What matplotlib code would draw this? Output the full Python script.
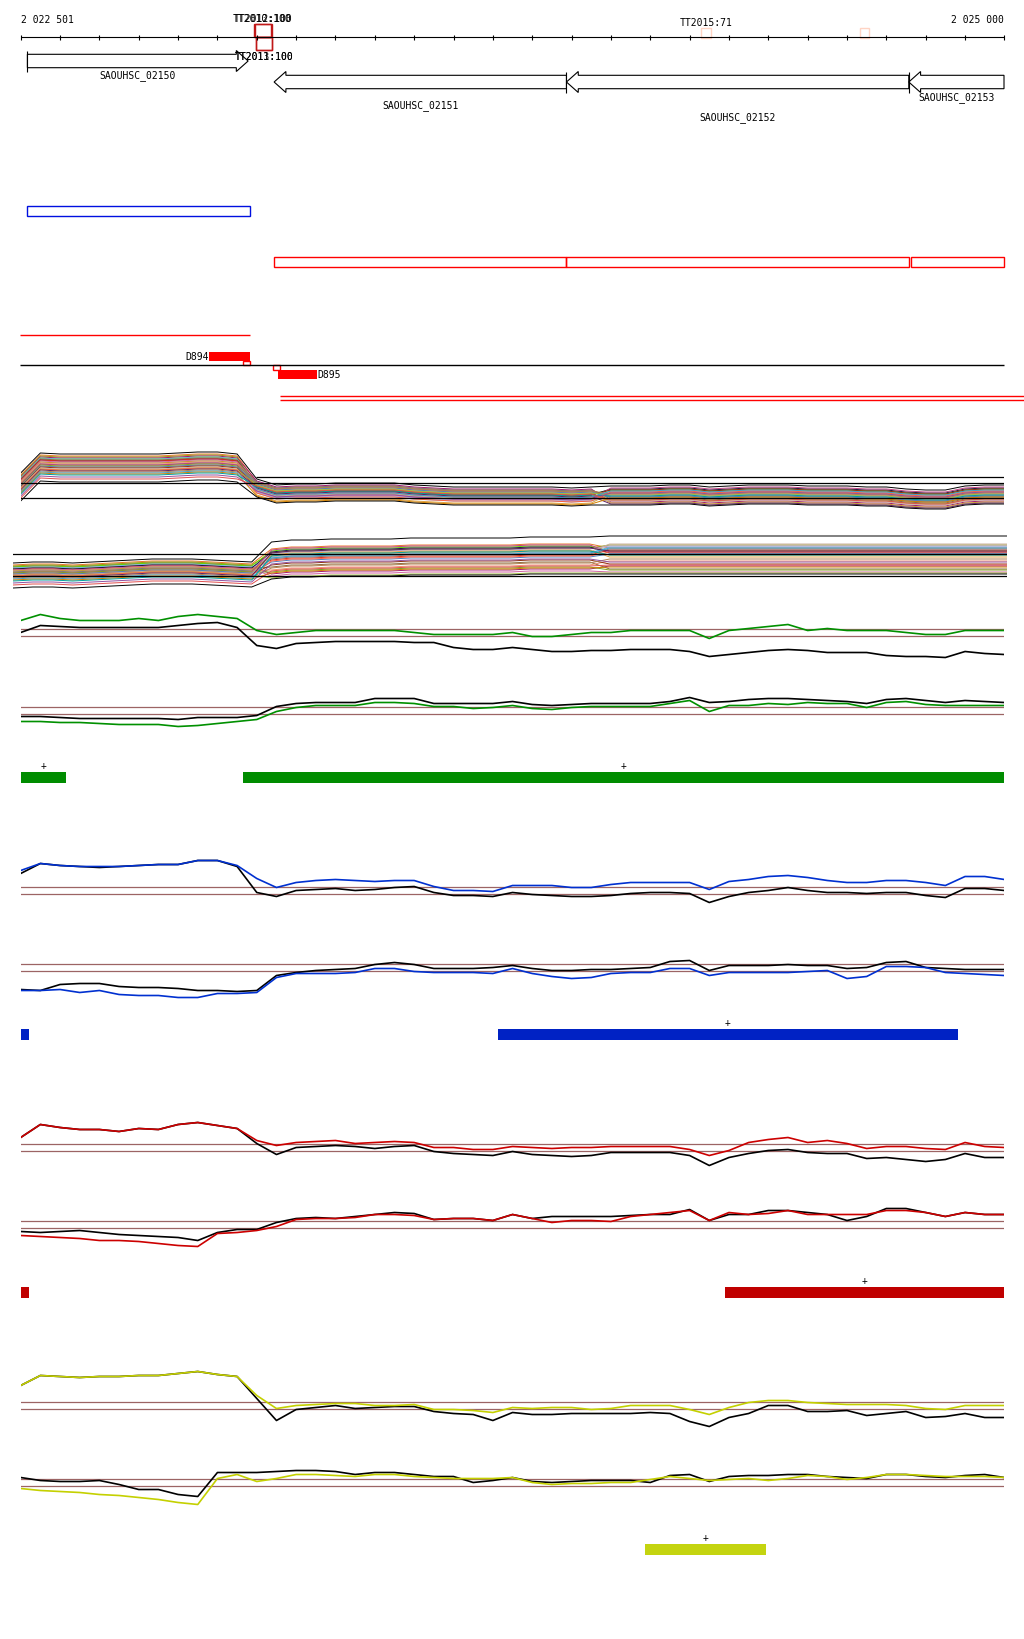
# Third party modules #
import matplotlib
matplotlib.use('Agg')
from matplotlib import pyplot
from matplotlib.patches import Rectangle, Polygon

# Constants #
W, H = 1024, 1640
view_start, view_end = 2022501, 2025000
px_start, px_end = 20.7, 1004.0
font = dict(family='DejaVu Sans Mono', fontsize=7, color='black')
brown = '#9c6464'

################################################################################
# Probe grid (one value every 50 bp) #
probe_pos = list(range(2022501, 2025002, 50))

# Ruler markers #
marker_names = ['TT2010:100', 'TT2012:100', 'TT2011:100', 'TT2013:100', 'TT2015:71', '']
marker_start = [2023094, 2023096, 2023099, 2023099, 2024230, 2024634]
marker_end   = [2023137, 2023140, 2023140, 2023140, 2024256, 2024657]
marker_side  = ['up', 'up', 'down', 'down', 'up', 'up']
marker_score = [100, 100, 100, 100, 71, 0]

# Genes #
gene_names   = ['SAOUHSC_02150', 'SAOUHSC_02151', 'SAOUHSC_02152', 'SAOUHSC_02153']
gene_starts  = [2022518, 2023145, 2023888, 2024758]
gene_ends    = [2023079, 2023888, 2024758, 2025000]
gene_strands = ['+', '-', '-', '-']
gene_label_rows = [76, 106, 117.5, 97.5]

# Transcription units #
blue_units = [(2022518, 2023083)]
red_units  = [(2023145, 2023888), (2023888, 2024758), (2024764, 2025000)]

# Deletions #
del_names  = ['D894', 'D895']
del_starts = [2022980, 2023155]
del_ends   = [2023083, 2023255]

# Segment bars per condition #
green_bars  = [(2022501, 2022616), (2023066, 2025000)]
blue_bars   = [(2022501, 2022522), (2023714, 2024883)]
red_bars    = [(2022501, 2022522), (2024291, 2025000)]
yellow_bars = [(2024088, 2024396)]

# All-sample tracks: base profile + per sample level (left / middle / right) #
t1_base = [-0.1, 1.9, 1.8, 1.8, 1.8, 1.8, 1.8, 1.8, 1.9, 2.0, 2.0, 1.8,
           -0.4, -1.0, -0.9, -0.9, -0.8, -0.8, -0.8, -0.8, -1.0, -1.1, -1.2, -1.2, -1.2,
           -1.2, -1.2, -1.2, -1.3, -1.2, -1.2, -1.2, -1.2, -1.1, -1.1, -1.3, -1.2, -1.1,
           -1.1, -1.1, -1.2, -1.2, -1.2, -1.3, -1.3, -1.5, -1.6, -1.6, -1.2, -1.1, -1.1]
t1_left_off  = [1.1, 0.9, 0.8, 0.7, 0.6, 0.6, 0.5, 0.4, 0.4, 0.3, 0.2, 0.2, 0.1, 0.0, 0.0,
                -0.1, -0.2, -0.2, -0.3, -0.4, -0.5, -0.5, -0.6, -0.7, -0.8, -0.9, -1.0, -1.2, -1.4, -1.7]
t1_mid_off   = [0.8, 0.5, -0.3, 0.6, 0.1, -0.6, 0.4, 0.0, -0.2, 0.3, -0.5, 0.2, -0.1, 0.5, -0.4,
                0.1, -0.8, 0.3, 0.0, -0.3, 0.2, -0.6, -0.1, 0.4, -0.2, -0.9, 0.0, -0.4, 0.1, -1.0]
t1_right_off = [0.9, -0.2, 0.4, -0.7, 0.5, 0.0, -0.4, 0.6, 0.2, -0.1, 0.3, -0.8, 0.1, -0.3, 0.7,
                -0.5, 0.2, -0.2, 0.5, -0.6, 0.0, 0.3, -0.9, 0.1, 0.4, -0.3, -0.1, 0.2, -0.5, -1.0]
t1_refs = [0.0, -1.5]

t2_base = [-1.7, -1.6, -1.6, -1.7, -1.6, -1.5, -1.4, -1.3, -1.3, -1.3, -1.4, -1.5, -1.6,
           -0.8, -0.6, -0.6, -0.5, -0.5, -0.5, -0.5, -0.4, -0.4, -0.4, -0.4, -0.4, -0.4,
           -0.3, -0.3, -0.3, -0.3, -0.3, -0.3, -0.3, -0.3, -0.3, -0.3, -0.3, -0.3, -0.3,
           -0.3, -0.3, -0.3, -0.3, -0.3, -0.3, -0.3, -0.3, -0.3, -0.3, -0.3, -0.3]
t2_left_off  = [0.8, 0.6, 0.5, 0.4, 0.4, 0.3, 0.2, 0.2, 0.1, 0.1, 0.0, 0.0, -0.1, -0.1, -0.2,
                -0.2, -0.3, -0.3, -0.4, -0.4, -0.5, -0.5, -0.6, -0.7, -0.8, -0.9, -1.0, -1.2, -1.4, -1.7]
t2_mid_off   = [2.0, 1.3, 0.9, -1.2, 1.1, 0.4, -0.5, 1.0, 0.2, -1.4, 0.8, 0.6, -0.8, 0.3, 1.2,
                -1.0, 0.7, 0.0, -0.3, 0.5, -1.6, 0.1, 0.9, -0.6, 0.4, -1.1, 0.6, -0.2, -0.9, -1.7]
t2_right_off = [2.1, 0.9, 1.2, -0.9, 0.6, 1.0, -1.2, 0.4, 0.7, -1.5, 1.1, 0.2, -0.4, 0.8, 0.5,
                -1.3, 0.0, 0.3, -0.7, 1.3, -1.6, 0.5, 0.6, -0.2, 0.9, -1.0, 0.2, -0.5, -0.8, -1.7]
t2_refs = [0.0, -2.2]

sample_colors = ['black', '#e8742a', '#9a9a10', '#a01870', '#66dd00', '#6fb0e0', '#8a6a3a',
                 '#1a1a40', '#e03020', '#d060a0', '#b0a0d0', '#c89a30', '#f09070', '#7a7a7a',
                 '#c04080', '#80a020', '#e0a040', '#5080c0', '#903010', '#c8b0a0', '#a0c040',
                 '#ff6040', '#602060', '#b08050', '#40a0d0', '#d08000', '#00a0a0', '#9050a0',
                 '#e05050', 'black']

# Condition profiles (log ratio) #
green_top_green = [1.2, 1.8, 1.4, 1.2, 1.2, 1.2, 1.4, 1.2, 1.6, 1.8, 1.6, 1.4, 0.2, -0.2, 0.0, 0.2, 0.2,
                   0.2, 0.2, 0.2, 0.0, -0.2, -0.2, -0.2, -0.2, 0.0, -0.4, -0.4, -0.2, 0.0, 0.0, 0.2,
                   0.2, 0.2, 0.2, -0.6, 0.2, 0.4, 0.6, 0.8, 0.2, 0.4, 0.2, 0.2, 0.2, 0.0, -0.2, -0.2,
                   0.2, 0.2, 0.2]
green_top_black = [0.0, 0.7, 0.6, 0.5, 0.5, 0.5, 0.5, 0.5, 0.7, 0.9, 1.0, 0.5, -1.3, -1.6, -1.1, -1.0,
                   -0.9, -0.9, -0.9, -0.9, -1.0, -1.0, -1.5, -1.7, -1.7, -1.5, -1.7, -1.9, -1.9, -1.8,
                   -1.8, -1.7, -1.7, -1.7, -1.9, -2.4, -2.2, -2.0, -1.8, -1.7, -1.8, -2.0, -2.0, -2.0,
                   -2.3, -2.4, -2.4, -2.5, -1.9, -2.1, -2.2]
green_bot_green = [-1.1, -1.1, -1.2, -1.2, -1.3, -1.4, -1.4, -1.4, -1.6, -1.5, -1.3, -1.1, -0.9, -0.1,
                   0.3, 0.5, 0.5, 0.5, 0.8, 0.8, 0.7, 0.4, 0.4, 0.2, 0.3, 0.5, 0.2, 0.1, 0.3, 0.4, 0.4,
                   0.4, 0.4, 0.7, 1.0, -0.1, 0.5, 0.5, 0.7, 0.6, 0.8, 0.7, 0.7, 0.3, 0.8, 0.9, 0.6,
                   0.5, 0.5, 0.5, 0.5]
green_bot_black = [-0.6, -0.6, -0.7, -0.8, -0.8, -0.8, -0.8, -0.8, -0.9, -0.7, -0.7, -0.7, -0.5, 0.4,
                   0.7, 0.8, 0.8, 0.8, 1.2, 1.2, 1.2, 0.7, 0.7, 0.7, 0.7, 0.9, 0.6, 0.5, 0.6, 0.7, 0.7,
                   0.7, 0.7, 0.9, 1.3, 0.8, 0.9, 1.1, 1.2, 1.2, 1.1, 1.0, 0.9, 0.7, 1.1, 1.2, 1.0, 0.8,
                   1.0, 0.9, 0.8]
blue_top_blue = [2.0, 2.7, 2.5, 2.4, 2.4, 2.4, 2.5, 2.6, 2.6, 3.0, 3.0, 2.5, 1.2, 0.3, 0.8, 1.0, 1.1,
                 1.0, 0.9, 1.0, 1.0, 0.4, 0.0, 0.0, -0.1, 0.5, 0.5, 0.5, 0.3, 0.3, 0.6, 0.8, 0.8, 0.8,
                 0.8, 0.1, 0.9, 1.1, 1.4, 1.5, 1.3, 1.0, 0.8, 0.8, 1.0, 1.0, 0.8, 0.5, 1.4, 1.4, 1.1]
blue_top_black = [1.7, 2.7, 2.5, 2.4, 2.3, 2.4, 2.5, 2.6, 2.6, 3.0, 3.0, 2.4, -0.2, -0.6, 0.0, 0.1, 0.2,
                  0.0, 0.1, 0.3, 0.4, -0.2, -0.5, -0.5, -0.6, -0.2, -0.4, -0.5, -0.6, -0.6, -0.5, -0.3,
                  -0.2, -0.2, -0.3, -1.2, -0.6, -0.2, 0.0, 0.3, 0.0, -0.2, -0.2, -0.3, -0.2, -0.2,
                  -0.5, -0.7, 0.2, 0.2, 0.0]
blue_bot_blue = [-2.3, -2.3, -2.2, -2.5, -2.3, -2.7, -2.8, -2.8, -3.0, -3.0, -2.6, -2.6, -2.5, -1.0,
                 -0.6, -0.6, -0.6, -0.5, -0.1, -0.1, -0.4, -0.5, -0.5, -0.5, -0.6, -0.1, -0.6, -0.9,
                 -1.1, -1.0, -0.6, -0.5, -0.5, -0.1, -0.1, -0.8, -0.5, -0.5, -0.5, -0.5, -0.4, -0.3,
                 -1.1, -0.9, 0.1, 0.1, 0.0, -0.5, -0.6, -0.7, -0.8]
blue_bot_black = [-2.2, -2.3, -1.7, -1.6, -1.6, -1.9, -2.0, -2.0, -2.1, -2.3, -2.3, -2.4, -2.3, -0.8,
                  -0.5, -0.3, -0.2, -0.1, 0.3, 0.5, 0.3, -0.1, -0.1, -0.1, 0.0, 0.2, -0.1, -0.3, -0.3,
                  -0.2, -0.2, -0.1, 0.0, 0.6, 0.7, -0.3, 0.2, 0.2, 0.2, 0.3, 0.2, 0.2, -0.1, 0.0, 0.5,
                  0.6, 0.0, -0.1, -0.2, -0.2, -0.2]
red_top_red = [1.0, 2.3, 2.0, 1.8, 1.8, 1.6, 1.9, 1.8, 2.3, 2.5, 2.2, 1.9, 0.7, 0.2, 0.5, 0.6, 0.7, 0.4,
               0.5, 0.6, 0.5, 0.0, 0.0, -0.2, -0.2, 0.1, 0.0, -0.1, 0.0, 0.0, 0.1, 0.1, 0.1, 0.1, -0.2,
               -0.8, -0.3, 0.5, 0.8, 1.0, 0.5, 0.7, 0.4, -0.1, 0.1, 0.1, -0.1, -0.2, 0.5, 0.1, 0.0]
red_top_black = [1.0, 2.3, 2.0, 1.8, 1.8, 1.6, 1.9, 1.8, 2.3, 2.5, 2.2, 1.9, 0.4, -0.7, 0.0, 0.1, 0.2,
                 0.1, -0.1, 0.1, 0.2, -0.4, -0.6, -0.7, -0.8, -0.4, -0.7, -0.8, -0.9, -0.8, -0.5, -0.5,
                 -0.5, -0.5, -0.8, -1.8, -1.0, -0.6, -0.3, -0.2, -0.5, -0.6, -0.6, -1.1, -1.0, -1.2,
                 -1.4, -1.2, -0.6, -1.0, -1.0]
red_bot_red = [-1.1, -1.2, -1.3, -1.4, -1.6, -1.6, -1.7, -1.9, -2.1, -2.2, -0.9, -0.8, -0.6, -0.2, 0.5,
               0.6, 0.6, 0.7, 1.0, 1.0, 0.9, 0.5, 0.6, 0.6, 0.4, 1.0, 0.6, 0.2, 0.4, 0.4, 0.3, 0.8, 1.0,
               1.2, 1.4, 0.4, 1.2, 1.0, 1.1, 1.4, 1.0, 1.0, 1.0, 1.0, 1.4, 1.4, 1.2, 0.8, 1.2, 1.0, 1.0]
red_bot_black = [-0.7, -0.8, -0.7, -0.6, -0.8, -1.0, -1.1, -1.2, -1.3, -1.6, -0.8, -0.5, -0.5, 0.2, 0.6,
                 0.7, 0.6, 0.8, 1.0, 1.2, 1.1, 0.5, 0.6, 0.6, 0.4, 1.0, 0.6, 0.8, 0.8, 0.8, 0.8, 0.9,
                 1.0, 1.0, 1.5, 0.4, 1.0, 1.0, 1.4, 1.4, 1.2, 1.0, 0.4, 0.8, 1.6, 1.6, 1.2, 0.8, 1.2,
                 1.0, 1.0]
yellow_top_yellow = [2.0, 3.0, 2.9, 2.8, 2.9, 2.9, 3.0, 3.0, 3.2, 3.4, 3.1, 2.9, 1.0, -0.3, 0.0, 0.1,
                     0.2, 0.2, 0.0, 0.0, 0.1, -0.4, -0.4, -0.5, -0.7, -0.2, -0.3, -0.2, -0.2, -0.4,
                     -0.3, 0.0, 0.0, 0.0, -0.4, -0.9, -0.2, 0.3, 0.5, 0.5, 0.3, 0.2, 0.1, 0.1, 0.1,
                     0.0, -0.3, -0.4, 0.0, 0.0, 0.0]
yellow_top_black = [2.0, 3.0, 2.9, 2.8, 2.9, 2.9, 3.0, 3.0, 3.2, 3.4, 3.1, 2.9, 0.7, -1.5, -0.4, -0.2,
                    0.0, -0.3, -0.2, -0.1, -0.1, -0.6, -0.8, -0.9, -1.5, -0.7, -0.9, -0.9, -0.8, -0.8,
                    -0.8, -0.8, -0.7, -0.8, -1.6, -2.1, -1.2, -0.8, 0.0, 0.0, -0.6, -0.6, -0.5, -1.0,
                    -0.8, -0.6, -1.2, -1.1, -0.8, -1.2, -1.2]
yellow_bot_yellow = [-0.6, -0.8, -0.9, -1.0, -1.2, -1.3, -1.5, -1.7, -2.0, -2.2, 0.4, 0.8, 0.1, 0.4,
                     0.8, 0.8, 0.7, 0.6, 0.8, 0.8, 0.6, 0.5, 0.4, 0.4, 0.4, 0.5, 0.0, -0.2, -0.1, -0.1,
                     0.0, 0.0, 0.3, 0.6, 0.4, 0.2, 0.3, 0.4, 0.2, 0.4, 0.7, 0.6, 0.3, 0.5, 0.8, 0.8,
                     0.7, 0.6, 0.6, 0.6, 0.5]
yellow_bot_black = [0.5, 0.2, 0.1, 0.1, 0.2, -0.2, -0.7, -0.7, -1.2, -1.4, 1.0, 1.0, 1.0, 1.1, 1.2, 1.2,
                    1.1, 0.8, 1.0, 1.0, 0.8, 0.6, 0.6, 0.0, 0.2, 0.5, 0.1, 0.0, 0.1, 0.2, 0.2, 0.2, 0.0,
                    0.7, 0.8, 0.1, 0.6, 0.7, 0.7, 0.8, 0.8, 0.6, 0.5, 0.4, 0.8, 0.8, 0.6, 0.5, 0.7,
                    0.8, 0.5]
thresholds = [0.35, -0.35]

################################################################################
def track_axes(fig, center, px0=px_start, px1=px_end, half=40):
    ax = fig.add_axes([px0/W, 1 - (center + half)/H, (px1 - px0)/W, 2*half/H])
    ax.set_xlim(view_start, view_end)
    ax.set_ylim(-half/10, half/10)
    ax.axis('off')
    return ax

def sample_track(fig, center, base, offsets, switches, refs, px0=px_start, px1=px_end):
    ax = track_axes(fig, center, px0, px1)
    left_off, mid_off, right_off = offsets
    for i, color in enumerate(sample_colors):
        vals = []
        for k, b in enumerate(base):
            if k < switches[0]:   off = left_off[i]
            elif k < switches[1]: off = mid_off[i]
            else:                 off = right_off[i]
            vals.append(b + off)
        ax.plot(probe_pos, vals, color=color, lw=0.7)
    for r in refs: ax.axhline(r, color='black', lw=0.9)
    return ax

def condition_track(fig, center, colored, black, color):
    ax = track_axes(fig, center)
    for t in thresholds: ax.axhline(t, color=brown, lw=0.9)
    ax.plot(probe_pos, black, color='black', lw=1.2)
    ax.plot(probe_pos, colored, color=color, lw=1.2)

def draw_bars(ax, bars, top, color):
    for s, e in bars:
        ax.add_patch(Rectangle((s, top), e - s, 11, facecolor=color, edgecolor='none'))
        if e - s > 100: ax.text((s + e)/2, top - 7, '+', ha='center', va='center', **font)

################################################################################
fig = pyplot.figure(figsize=(W/100, H/100), dpi=100)
fig.patch.set_facecolor('white')

# Feature axes in bp / pixel rows #
ppb = (px_end - px_start) / (view_end - view_start)
feat = fig.add_axes([0, 0, 1, 1])
feat.set_xlim(view_start - px_start/ppb, view_end + (W - px_end)/ppb)
feat.set_ylim(H, 0)
feat.axis('off')

# Ruler #
ticks = list(range(view_start, view_end, 100)) + [view_end]
feat.hlines(38, view_start, view_end, color='black', lw=0.8)
feat.vlines(ticks, 35.5, 41, color='black', lw=0.8)
fmt = lambda n: '{:,}'.format(n).replace(',', ' ')
feat.text(view_start, 20, fmt(view_start), ha='left', va='center', **font)
feat.text(view_end, 20, fmt(view_end), ha='right', va='center', **font)

for name, s, e, side, score in zip(marker_names, marker_start, marker_end, marker_side, marker_score):
    color = '#c01818' if score >= 100 else '#ffd4c4'
    h = 13 if score >= 100 else 9
    top = 38 - h if side == 'up' else 38
    feat.add_patch(Rectangle((s, top), e - s, h + (1 if score < 100 else 0), fill=False, edgecolor=color, lw=1.0))
    if not name: continue
    ly = top - 6.5 if side == 'up' else top + h + 5.5
    feat.text((s + e)/2, ly, name, ha='center', va='center', **font)

# Genes #
head, bh, hh = 30, 6.7, 10.5
for name, s, e, strand, row in zip(gene_names, gene_starts, gene_ends, gene_strands, gene_label_rows):
    if strand == '+':
        yc, hb = 62, e - head
        pts = [(s, yc-bh), (hb, yc-bh), (hb, yc-hh), (e, yc), (hb, yc+hh), (hb, yc+bh), (s, yc+bh)]
        feat.vlines(s, yc-hh, yc+hh, color='black', lw=0.8)
    else:
        yc, hb = 83, s + head
        pts = [(e, yc-bh), (hb, yc-bh), (hb, yc-hh), (s, yc), (hb, yc+hh), (hb, yc+bh), (e, yc+bh)]
        if e < view_end: feat.vlines(e, yc-hh, yc+hh, color='black', lw=0.8)
    feat.add_patch(Polygon(pts, closed=True, fill=False, edgecolor='black', lw=0.8))
    feat.text((s + e)/2, row, name, ha='center', va='center', **font)

# Transcription units #
for s, e in blue_units:
    feat.add_patch(Rectangle((s, 207), e - s, 10, fill=False, edgecolor='#0010e0', lw=1.0))
for s, e in red_units:
    feat.add_patch(Rectangle((s, 258), e - s, 10, fill=False, edgecolor='#ff0000', lw=1.0))

# Deletions #
feat.hlines(336, view_start - 2, del_ends[0] + 2, color='#ff0000', lw=1.0)
feat.hlines(366, view_start - 2, view_end, color='black', lw=1.0)
feat.add_patch(Rectangle((del_starts[0], 353), del_ends[0] - del_starts[0], 9, facecolor='#ff0000', edgecolor='none'))
feat.text(del_starts[0], 357.5, del_names[0], ha='right', va='center', **font)
feat.add_patch(Rectangle((del_ends[0] - 17, 362), 17, 4, fill=False, edgecolor='#ff0000', lw=1.0))
feat.add_patch(Rectangle((del_starts[1] - 12, 366), 17, 5, fill=False, edgecolor='#ff0000', lw=1.0))
feat.add_patch(Rectangle((del_starts[1], 371), del_ends[1] - del_starts[1], 9, facecolor='#ff0000', edgecolor='none'))
feat.text(del_ends[1], 375.5, del_names[1], ha='left', va='center', **font)
feat.hlines([397, 401], del_starts[1] + 5, view_end + 200, color='#ff0000', lw=1.0)

# All-sample tracks #
ax1 = sample_track(fig, 484, t1_base, (t1_left_off, t1_mid_off, t1_right_off), (12, 30), t1_refs)
ax1.hlines(0.6, 2023100, view_end, color='black', lw=0.9)
sample_track(fig, 555, t2_base, (t2_left_off, t2_mid_off, t2_right_off), (13, 30), t2_refs, px0=13, px1=1007)

# Condition tracks #
condition_track(fig, 633.5, green_top_green, green_top_black, '#009000')
condition_track(fig, 711.5, green_bot_green, green_bot_black, '#009000')
draw_bars(feat, green_bars, 773, '#008c00')

condition_track(fig, 891.5, blue_top_blue, blue_top_black, '#0030d0')
condition_track(fig, 968.5, blue_bot_blue, blue_bot_black, '#0030d0')
draw_bars(feat, blue_bars, 1030, '#0022c4')

condition_track(fig, 1148.5, red_top_red, red_top_black, '#cc0000')
condition_track(fig, 1225.5, red_bot_red, red_bot_black, '#cc0000')
draw_bars(feat, red_bars, 1288, '#c00000')

condition_track(fig, 1406.5, yellow_top_yellow, yellow_top_black, '#c4d000')
condition_track(fig, 1483.5, yellow_bot_yellow, yellow_bot_black, '#c4d000')
draw_bars(feat, yellow_bars, 1545, '#c4d410')

fig.savefig('out.png', dpi=100, facecolor='white')
pyplot.close(fig)
